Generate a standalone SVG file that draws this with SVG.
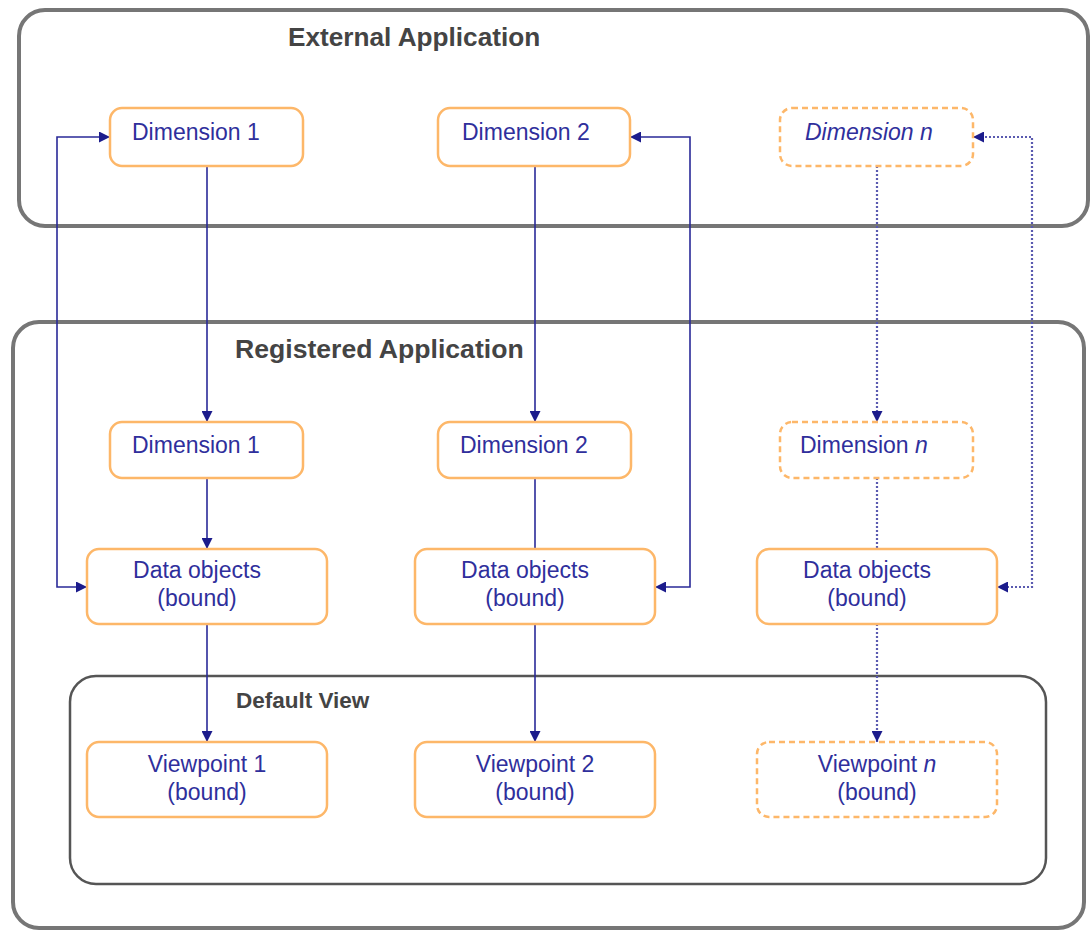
<svg xmlns="http://www.w3.org/2000/svg" width="1092" height="931" viewBox="0 0 1092 931">
<style>
.bg{fill:#fff}
.outer{fill:#fff;stroke:#767676;stroke-width:4}
.inner{fill:none;stroke:#555;stroke-width:2.5}
.title{font-family:"Liberation Sans",Arial,sans-serif;font-weight:bold;fill:#444}
.node{fill:#fff;stroke:#fdb769;stroke-width:2.5}
.dashed{stroke-dasharray:6 4}
.lbl{font-family:"Liberation Sans",Arial,sans-serif;font-size:23px;fill:#2f2f9c}
.conn{fill:none;stroke:#2a2a98;stroke-width:1.6}
.dot{stroke:#5a5ab0;stroke-dasharray:2 2;stroke-width:2.2}
</style>
<defs>
<marker id="ah" viewBox="0 0 10 10" refX="10" refY="5" markerWidth="11" markerHeight="11" markerUnits="userSpaceOnUse" orient="auto-start-reverse">
<path d="M0,0 L10,5 L0,10 z" fill="#1c1c8c"/>
</marker>
</defs>
<rect class="bg" x="0" y="0" width="1092" height="931"/>
<g id="external-application">
<rect class="outer" x="19" y="10" width="1069" height="216" rx="26"/>
<text class="title" x="288" y="46" font-size="26.2">External Application</text>
</g>
<g id="registered-application">
<rect class="outer" x="13" y="322" width="1071" height="606" rx="26"/>
<text class="title" x="235" y="358" font-size="26.6">Registered Application</text>
</g>
<g id="default-view">
<rect class="inner" x="70" y="676" width="976" height="208" rx="26"/>
<text class="title" x="236" y="708" font-size="22.5">Default View</text>
</g>
<g id="connectors">
<path class="conn" d="M207,166 V422" marker-end="url(#ah)"/>
<path class="conn" d="M207,478 V549" marker-end="url(#ah)"/>
<path class="conn" d="M207,624 V742" marker-end="url(#ah)"/>
<path class="conn" d="M110,137 H57 V587 H87" marker-start="url(#ah)" marker-end="url(#ah)"/>
<path class="conn" d="M535,166 V422" marker-end="url(#ah)"/>
<path class="conn" d="M535,478 V549"/>
<path class="conn" d="M535,624 V742" marker-end="url(#ah)"/>
<path class="conn" d="M630,137 H690 V587 H655" marker-start="url(#ah)" marker-end="url(#ah)"/>
<path class="conn dot" d="M877,166 V422" marker-end="url(#ah)"/>
<path class="conn dot" d="M877,478 V549"/>
<path class="conn dot" d="M877,624 V742" marker-end="url(#ah)"/>
<path class="conn dot" d="M973,137 H1032 V587 H997" marker-start="url(#ah)" marker-end="url(#ah)"/>
</g>
<g id="ext-dimension-1">
<rect class="node" x="110" y="108" width="193" height="58" rx="12"/>
<text class="lbl" x="132" y="140">Dimension 1</text>
</g>
<g id="ext-dimension-2">
<rect class="node" x="438" y="108" width="192" height="58" rx="12"/>
<text class="lbl" x="462" y="140">Dimension 2</text>
</g>
<g id="ext-dimension-n">
<rect class="node dashed" x="780" y="108" width="193" height="58" rx="12"/>
<text class="lbl" x="805" y="140" font-style="italic">Dimension n</text>
</g>
<g id="reg-dimension-1">
<rect class="node" x="110" y="422" width="193" height="56" rx="12"/>
<text class="lbl" x="132" y="453">Dimension 1</text>
</g>
<g id="reg-dimension-2">
<rect class="node" x="438" y="422" width="193" height="56" rx="12"/>
<text class="lbl" x="460" y="453">Dimension 2</text>
</g>
<g id="reg-dimension-n">
<rect class="node dashed" x="780" y="422" width="193" height="56" rx="12"/>
<text class="lbl" x="800" y="453">Dimension <tspan font-style="italic">n</tspan></text>
</g>
<g id="data-objects-1">
<rect class="node" x="87" y="549" width="240" height="75" rx="12"/>
<text class="lbl" x="197" y="578" text-anchor="middle">Data objects</text>
<text class="lbl" x="197" y="606" text-anchor="middle">(bound)</text>
</g>
<g id="data-objects-2">
<rect class="node" x="415" y="549" width="240" height="75" rx="12"/>
<text class="lbl" x="525" y="578" text-anchor="middle">Data objects</text>
<text class="lbl" x="525" y="606" text-anchor="middle">(bound)</text>
</g>
<g id="data-objects-n">
<rect class="node" x="757" y="549" width="240" height="75" rx="12"/>
<text class="lbl" x="867" y="578" text-anchor="middle">Data objects</text>
<text class="lbl" x="867" y="606" text-anchor="middle">(bound)</text>
</g>
<g id="viewpoint-1">
<rect class="node" x="87" y="742" width="240" height="75" rx="12"/>
<text class="lbl" x="207" y="772" text-anchor="middle">Viewpoint 1</text>
<text class="lbl" x="207" y="800" text-anchor="middle">(bound)</text>
</g>
<g id="viewpoint-2">
<rect class="node" x="415" y="742" width="240" height="75" rx="12"/>
<text class="lbl" x="535" y="772" text-anchor="middle">Viewpoint 2</text>
<text class="lbl" x="535" y="800" text-anchor="middle">(bound)</text>
</g>
<g id="viewpoint-n">
<rect class="node dashed" x="757" y="742" width="240" height="75" rx="12"/>
<text class="lbl" x="877" y="772" text-anchor="middle">Viewpoint <tspan font-style="italic">n</tspan></text>
<text class="lbl" x="877" y="800" text-anchor="middle">(bound)</text>
</g>
</svg>
